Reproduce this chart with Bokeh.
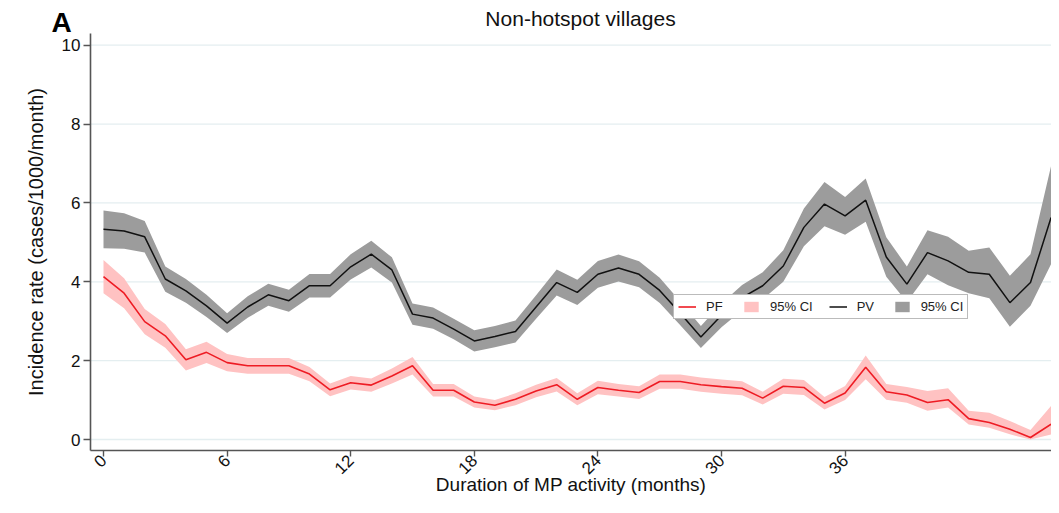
import math
from bokeh.plotting import figure
from bokeh.models import Range1d, Legend, LegendItem, Label, FixedTicker
from bokeh.embed import file_html
from bokeh.resources import INLINE

# ---- data ----
months = list(range(47))

pf_rate = [4.13, 3.71, 2.99, 2.63, 2.02, 2.21, 1.95, 1.87, 1.87, 1.87,
           1.66, 1.26, 1.44, 1.38, 1.61, 1.87, 1.25, 1.25, 0.95, 0.87,
           1.02, 1.23, 1.39, 1.02, 1.32, 1.25, 1.19, 1.47, 1.47, 1.39,
           1.34, 1.30, 1.05, 1.35, 1.32, 0.92, 1.18, 1.83, 1.21, 1.13,
           0.94, 1.01, 0.53, 0.43, 0.26, 0.05, 0.39]
pf_lower = [3.71, 3.33, 2.67, 2.33, 1.75, 1.94, 1.73, 1.67, 1.67, 1.67,
            1.48, 1.10, 1.27, 1.21, 1.42, 1.65, 1.09, 1.09, 0.81, 0.74,
            0.87, 1.07, 1.22, 0.87, 1.15, 1.09, 1.03, 1.29, 1.29, 1.21,
            1.16, 1.12, 0.89, 1.16, 1.13, 0.76, 1.00, 1.53, 1.01, 0.93,
            0.73, 0.81, 0.38, 0.30, 0.13, 0.00, 0.13]
pf_upper = [4.55, 4.09, 3.31, 2.93, 2.29, 2.48, 2.17, 2.07, 2.07, 2.07,
            1.84, 1.42, 1.61, 1.55, 1.80, 2.09, 1.41, 1.41, 1.09, 1.00,
            1.17, 1.39, 1.56, 1.17, 1.49, 1.41, 1.35, 1.65, 1.65, 1.57,
            1.52, 1.48, 1.21, 1.54, 1.51, 1.08, 1.36, 2.13, 1.41, 1.33,
            1.23, 1.30, 0.73, 0.68, 0.47, 0.24, 0.85]

pv_rate = [5.33, 5.29, 5.14, 4.07, 3.77, 3.39, 2.95, 3.36, 3.67, 3.52,
           3.90, 3.90, 4.38, 4.70, 4.30, 3.18, 3.08, 2.80, 2.50, 2.61,
           2.74, 3.36, 3.98, 3.73, 4.19, 4.35, 4.19, 3.78, 3.20, 2.60,
           3.15, 3.60, 3.90, 4.40, 5.38, 5.97, 5.67, 6.07, 4.63, 3.94,
           4.74, 4.53, 4.24, 4.19, 3.47, 3.98, 5.63]
pv_lower = [4.85, 4.84, 4.74, 3.75, 3.47, 3.11, 2.70, 3.09, 3.39, 3.24,
            3.60, 3.60, 4.06, 4.36, 3.98, 2.91, 2.81, 2.54, 2.23, 2.34,
            2.46, 3.06, 3.65, 3.41, 3.85, 4.01, 3.86, 3.46, 2.90, 2.32,
            2.85, 3.28, 3.56, 4.00, 4.90, 5.41, 5.19, 5.52, 4.13, 3.49,
            4.19, 3.91, 3.71, 3.58, 2.86, 3.39, 4.45]
pv_upper = [5.81, 5.74, 5.54, 4.39, 4.07, 3.67, 3.20, 3.63, 3.95, 3.80,
            4.20, 4.20, 4.70, 5.04, 4.62, 3.45, 3.35, 3.06, 2.77, 2.88,
            3.02, 3.66, 4.31, 4.05, 4.53, 4.69, 4.52, 4.10, 3.50, 2.88,
            3.45, 3.92, 4.24, 4.80, 5.86, 6.53, 6.15, 6.62, 5.13, 4.39,
            5.31, 5.14, 4.79, 4.87, 4.15, 4.70, 6.94]

x_ticks = [0, 6, 12, 18, 24, 30, 36]
y_ticks = [0, 2, 4, 6, 8, 10]

FONT = "Liberation Sans"

# axis extents (data units) where the drawn axes begin / end
X_AXIS_AT = -0.28     # y value at which the x axis sits
Y_AXIS_AT = -0.631    # x value at which the y axis sits
X_END = 46.02
Y_END = 10.30

W, H = 1051, 497
p = figure(width=W, height=H, output_backend="svg", toolbar_location=None,
           x_range=Range1d(-5.0, X_END), y_range=Range1d(-1.471, 11.134),
           min_border_left=0, min_border_right=0, min_border_top=0,
           min_border_bottom=0)
p.outline_line_color = None
p.background_fill_color = "white"
p.border_fill_color = "white"
p.xgrid.visible = False
p.ygrid.visible = False

# horizontal gridlines at the y ticks, limited to the plot region
p.segment(x0=[Y_AXIS_AT] * len(y_ticks), x1=[X_END] * len(y_ticks),
          y0=y_ticks, y1=y_ticks, line_color="#e4eef0", line_width=1.3,
          level="underlay")

# axes
for ax in (p.xaxis, p.yaxis):
    ax.axis_line_color = "#555555"
    ax.axis_line_width = 1.6
    ax.major_tick_line_color = "#555555"
    ax.major_tick_line_width = 1.4
    ax.major_tick_out = 7
    ax.major_tick_in = 0
    ax.minor_tick_line_color = None
    ax.major_label_text_font = FONT
    ax.major_label_text_font_size = "17px"
    ax.major_label_text_color = "#111111"
    ax.axis_label_text_font = FONT
    ax.axis_label_text_font_size = "19px"
    ax.axis_label_text_font_style = "normal"
    ax.axis_label_text_color = "#111111"

p.yaxis.axis_label_text_font_size = "20px"
p.xaxis.major_tick_out = 6
p.xaxis.ticker = FixedTicker(ticks=x_ticks)
p.yaxis.ticker = FixedTicker(ticks=y_ticks)
p.xaxis.fixed_location = X_AXIS_AT
p.yaxis.fixed_location = Y_AXIS_AT
p.xaxis.bounds = (Y_AXIS_AT, X_END)
p.yaxis.bounds = (X_AXIS_AT, Y_END)
p.xaxis.major_label_orientation = math.pi / 4
p.xaxis.axis_label = "Duration of MP activity (months)"
p.yaxis.axis_label = "Incidence rate (cases/1000/month)"
p.yaxis.major_label_standoff = 3
p.yaxis.axis_label_standoff = 12
p.xaxis.major_label_standoff = 1
p.xaxis.axis_label_standoff = -8

# glyphs
pf_band = p.varea(x=months, y1=pf_lower, y2=pf_upper, fill_color="#ffc2c2", fill_alpha=1.0)
pf_line = p.line(months, pf_rate, line_color="#ee1c24", line_width=1.6)
pv_band = p.varea(x=months, y1=pv_lower, y2=pv_upper, fill_color="#9c9c9c", fill_alpha=1.0)
pv_line = p.line(months, pv_rate, line_color="#111111", line_width=1.5)

legend = Legend(items=[
    LegendItem(label="PF", renderers=[pf_line]),
    LegendItem(label="95% CI", renderers=[pf_band]),
    LegendItem(label="PV", renderers=[pv_line]),
    LegendItem(label="95% CI", renderers=[pv_band]),
], orientation="horizontal", location=(673, 178))
legend.label_text_font = FONT
legend.label_text_font_size = "13px"
legend.label_text_color = "#222222"
legend.glyph_width = 18
legend.glyph_height = 13
legend.label_standoff = 10
legend.spacing = 16
legend.padding = 4
legend.margin = 0
legend.border_line_color = "#777777"
legend.border_line_width = 1.5
legend.background_fill_color = "white"
legend.background_fill_alpha = 1.0
p.add_layout(legend, "center")

# title and panel letter
p.add_layout(Label(x=580, y=479, x_units="screen", y_units="screen",
                   text="Non-hotspot villages", text_font=FONT,
                   text_font_size="21px", text_align="center",
                   text_baseline="alphabetic", text_color="#111111"))
p.add_layout(Label(x=51, y=475, x_units="screen", y_units="screen",
                   text="A", text_font=FONT, text_font_style="bold",
                   text_font_size="28px", text_align="left",
                   text_baseline="alphabetic", text_color="#000000"))

open("out.html", "w").write(file_html(p, INLINE))
